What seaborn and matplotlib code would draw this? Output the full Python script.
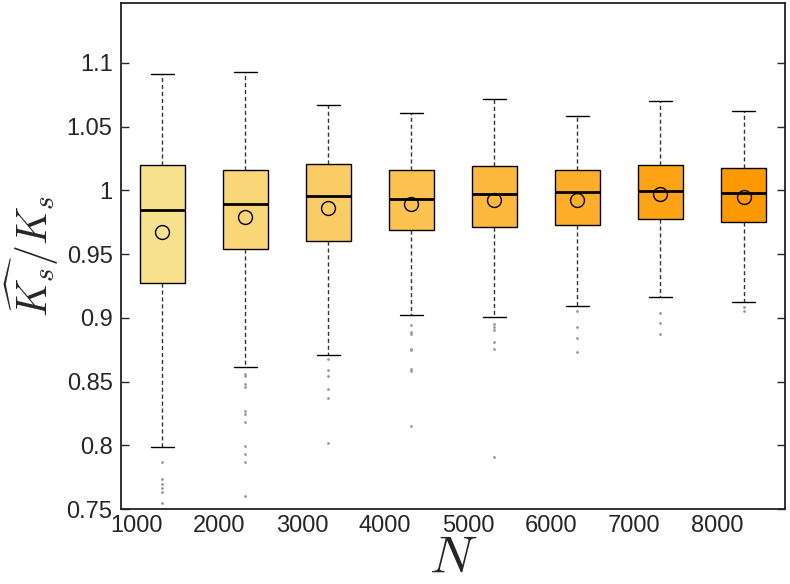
import numpy as np
import pandas as pd
import matplotlib.pyplot as plt
import seaborn as sns

# box statistics, one entry per N
N_labels = ["1000", "2000", "3000", "4000", "5000", "6000", "7000", "8000"]
whisk_hi = [1.0913, 1.0926, 1.0672, 1.0610, 1.0717, 1.0583, 1.0699, 1.0626]
q3 = [1.0202, 1.0162, 1.0204, 1.0162, 1.0194, 1.0157, 1.0202, 1.0178]
med = [0.9843, 0.9892, 0.9955, 0.9929, 0.9971, 0.9987, 0.9995, 0.9976]
q1 = [0.9275, 0.9542, 0.9602, 0.9686, 0.9710, 0.9725, 0.9772, 0.9754]
whisk_lo = [0.7985, 0.8618, 0.8710, 0.9019, 0.9006, 0.9089, 0.9163, 0.9125]
means = [0.9673, 0.9790, 0.9861, 0.9892, 0.9921, 0.9927, 0.9971, 0.9948]
fliers = [
	[0.7870, 0.7734, 0.7698, 0.7666, 0.7632, 0.7545],
	[0.8560, 0.8540, 0.8477, 0.8456, 0.8268, 0.8246, 0.8180, 0.7993, 0.7928, 0.7867, 0.7606],
	[0.8680, 0.8592, 0.8545, 0.8440, 0.8370, 0.8020],
	[0.8946, 0.8888, 0.8875, 0.8757, 0.8744, 0.8600, 0.8582, 0.8150],
	[0.8953, 0.8927, 0.8906, 0.8809, 0.8757, 0.7906],
	[0.9053, 0.8927, 0.8843, 0.8730],
	[0.9037, 0.8958, 0.8875],
	[0.9084, 0.9050],
]

# build one sample per N whose quartiles / whiskers reproduce the stats above
rows = []
for i, lab in enumerate(N_labels):
	low = sorted(fliers[i])
	k = len(low) + 1
	vals = low + [whisk_lo[i]] + [q1[i]] + [med[i]] * k + [q3[i]] * k + [whisk_hi[i]] * k
	for v in vals:
		rows.append({"N": lab, "ratio": v})
df = pd.DataFrame(rows)

sns.set_style("ticks")
plt.rcParams["font.family"] = ["Liberation Sans", "DejaVu Sans"]
plt.rcParams["mathtext.fontset"] = "cm"

fig = plt.figure(figsize=(7.9, 5.84), dpi=100)
ax = fig.add_axes([0.153, 0.1284, 0.8407, 0.8665])

pal = sns.blend_palette(["#F8E18C", "#FF9900"], len(N_labels))

sns.boxplot(data=df, x="N", y="ratio", hue="N", order=N_labels, hue_order=N_labels,
	palette=pal, legend=False, width=0.55, whis=1.5, linecolor="black", linewidth=1,
	saturation=1, ax=ax,
	medianprops=dict(color="black", linewidth=2),
	whiskerprops=dict(color="#333333", linestyle=(0, (3, 2)), linewidth=1),
	capprops=dict(color="black", linewidth=1),
	flierprops=dict(marker=".", markersize=2, markerfacecolor="#999999",
		markeredgecolor="#999999", linestyle="none"))

ax.plot(range(len(N_labels)), means, linestyle="none", marker="o", markersize=10,
	markerfacecolor="none", markeredgecolor="black", markeredgewidth=1, zorder=5)

ax.set_xlim(-0.5, len(N_labels) - 0.5)
ax.set_ylim(0.75, 1.147)
ax.set_yticks([0.75, 0.8, 0.85, 0.9, 0.95, 1.0, 1.05, 1.1])
ax.set_yticklabels(["0.75", "0.8", "0.85", "0.9", "0.95", "1", "1.05", "1.1"])
ax.set_xticks(range(len(N_labels)))
ax.set_xticklabels(N_labels, ha="right")
ax.tick_params(axis="y", direction="in", length=6, width=1, right=True, labelsize=17, pad=6)
ax.tick_params(axis="x", length=0, labelsize=17, pad=4)

for s in ax.spines.values():
	s.set_visible(True)
	s.set_linewidth(1.3)
	s.set_color("#222222")

ax.set_xlabel("$N$", fontsize=38, labelpad=-2)
ax.set_ylabel(r"$\widehat{K_s}/K_s$", fontsize=30, labelpad=4)

plt.savefig("out.png", dpi=100)
plt.close()
